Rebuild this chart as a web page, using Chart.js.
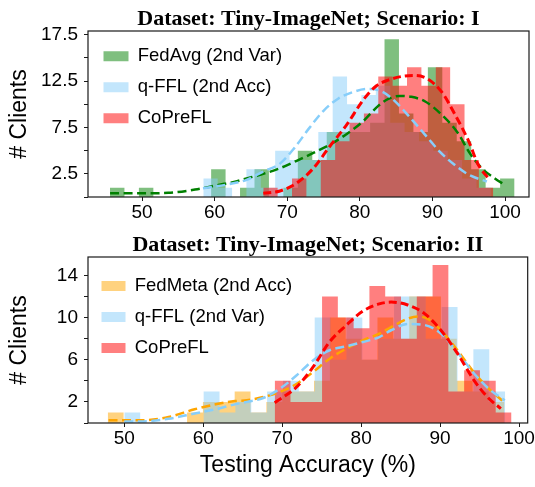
<!DOCTYPE html>
<html><head><meta charset="utf-8">
<script src="https://cdn.jsdelivr.net/npm/chart.js@4.4.1/dist/chart.umd.min.js"></script>
<style>
html,body{margin:0;padding:0;background:#fff;}
#wrap{position:relative;width:535px;height:487px;overflow:hidden;}
canvas{position:absolute;left:0;}
#c1{top:0;} #c2{top:222px;}
</style></head><body>
<div id="wrap"><canvas id="c1" width="535" height="222"></canvas><canvas id="c2" width="535" height="265"></canvas></div>
<script>
// ---------- Top panel (Scenario I) ----------
const title1 = 'Dataset: Tiny-ImageNet; Scenario: I';
const xTicks1 = [50, 60, 70, 80, 90, 100];
const yTicks1 = [0, 2.5, 5, 7.5, 10, 12.5, 15, 17.5];
const yTickLabels1 = [2.5, 7.5, 12.5, 17.5];
// histogram bins: start, width, counts
const fedavgStart = 45.59, fedavgWidth = 1.99;
const fedavgCounts = [1,0,1,0,0,0,0,3,0,1,3,0,1,5,4,7,7,7,8,17,9,7,14,8,6,3,1,2];
const qfflAStart = 58.44, qfflAWidth = 1.98;
const qfflACounts = [2,1,0,3,1,5,4,4,7,13,10,11,12,8,7,6,5,4,2,1];
const copre1Start = 66.7, copre1Width = 1.98;
const copre1Counts = [1,0,2,0,4,6,8,9,13,12,14,12,14,10,4,1];
// KDE curves
const fedavgKdeX = [45.6,50,53.6,57.3,60.5,62.8,64.4,66.7,69,71.3,73.6,75.9,78.2,80.5,82.5,84,85.5,87.1,89,91.3,93.6,95,96.8,98.6,100];
const fedavgKdeY = [0.4,0.4,0.45,0.8,1.3,1.65,2.0,2.5,3.1,3.9,4.75,5.65,6.8,8.2,9.8,10.6,10.9,10.8,10.3,8.85,6.8,4.9,3.1,2.0,1.3];
const qfflAKdeX = [58.4,62.1,64.4,66.7,69,71,73,75,77,79,81,83,85,87,89,91,93,95,97.5];
const qfflAKdeY = [0.95,1.4,1.85,2.75,3.6,5.3,7.4,9.3,10.6,11.3,11.65,11.4,10.2,8.5,6.7,4.9,3.5,2.4,1.67];
const copre1KdeX = [66.7,69,71.3,73.6,75.9,78.2,80.5,82.3,83.9,85.8,87.6,89.4,91.3,93.1,95,96.3,97.9];
const copre1KdeY = [0.4,0.65,1.5,3.1,5.5,7.8,10.5,12.0,12.6,13.0,13.1,12.7,11.3,8.9,6.0,3.5,1.85];

// ---------- Bottom panel (Scenario II) ----------
const title2 = 'Dataset: Tiny-ImageNet; Scenario: II';
const xTicks2 = [50, 60, 70, 80, 90, 100];
const yTicks2 = [0, 2, 4, 6, 8, 10, 12, 14];
const yTickLabels2 = [2, 6, 10, 14];
const fedmetaStart = 47.9, fedmetaWidth = 2.01;
const fedmetaCounts = [1,0,0,0,0,1,2,2,3,1,2,3,3,4,10,8,6,10,8,12,12,8,4,3,2];
const qfflVStart = 50.0, qfflVWidth = 2.01;
const qfflVCounts = [1,0,0,0,0,3,1,2,1,3,4,3,10,6,10,6,8,12,12,8,11,3,7,3];
const copre2Start = 69.05, copre2Width = 2.0;
const copre2Counts = [4,2,2,12,10,9,13,12,8,12,15,3,5,4,1];
const fedmetaKdeX = [48,52,55.6,58.9,61.9,64,65.5,67.6,69.7,71.8,73.9,76,78.1,80.2,82.3,83.8,85.9,87.2,88.4,90.1,92.2,94.3,96.4,98.1];
const fedmetaKdeY = [0.25,0.25,0.57,1.3,1.83,2.08,2.15,2.46,2.94,3.7,4.83,6.1,7.05,7.84,8.47,9.1,9.9,10.1,9.9,8.8,6.9,4.8,3.1,2.0];
const qfflVKdeX = [50,52,55.6,58.9,61.9,64,65.5,67.6,69.7,71.8,73.9,76,78.1,80.2,82.3,83.8,85.9,88,90.1,92.2,94.3,96.4,98.2];
const qfflVKdeY = [0.15,0.15,0.4,0.9,1.36,1.77,2.0,2.37,3.25,4.5,5.94,6.9,7.27,7.68,8.15,8.8,9.4,9.3,8.5,6.7,4.7,3.1,2.15];
const copre2KdeX = [69.05,71.8,73.9,76,78.1,80.2,82.3,83.8,85.9,88,90.1,92.2,94.3,96,97.7];
const copre2KdeY = [1.93,3.4,5.3,7.7,9.26,10.6,11.3,11.47,11.2,10.4,8.8,6.6,4.05,2.46,1.36];

const SANS = '"Liberation Sans", Arial, sans-serif';
const SERIF = '"Liberation Serif", "Times New Roman", serif';
const C_GREEN = 'rgba(0,128,0,0.5)', C_BLUE = 'rgba(135,206,250,0.5)', C_RED = 'rgba(255,0,0,0.5)', C_ORANGE = 'rgba(255,165,0,0.5)';

function histDS(label, start, width, counts, color, order) {
  const pts = counts.map((c, i) => ({x: start + i * width, y: c}));
  pts.push({x: start + counts.length * width, y: 0});
  return {label, data: pts, stepped: true, fill: 'origin', backgroundColor: color,
    borderColor: 'rgba(0,0,0,0)', borderWidth: 0, pointRadius: 0, pointHoverRadius: 0, order};
}
function kdeDS(xs, ys, color, width, dash, order) {
  return {label: '', data: xs.map((x, i) => ({x, y: ys[i]})), borderColor: color, backgroundColor: color,
    borderWidth: width, borderDash: dash, fill: false, pointRadius: 0, pointHoverRadius: 0,
    cubicInterpolationMode: 'monotone', order};
}
const frame = {id: 'frame', afterDraw(chart) {
  const {ctx, chartArea: a} = chart;
  ctx.save(); ctx.strokeStyle = '#1a1a1a'; ctx.lineWidth = 1.2;
  ctx.strokeRect(a.left, a.top, a.right - a.left, a.bottom - a.top); ctx.restore();
}};
const legendPos = {id: 'legendPos', afterLayout(chart, args, opts) {
  const L = chart.legend, a = chart.chartArea;
  if (!L) return;
  L.left = a.left + opts.dx; L.top = a.top + opts.dy; L.right = a.right; L.bottom = a.bottom;
}};

function makeChart(id, cfg) {
  const yLabels = cfg.yLabels;
  return new Chart(document.getElementById(id), {
    type: 'line',
    data: {datasets: cfg.datasets},
    plugins: [frame, legendPos],
    options: {
      responsive: false, animation: false, events: [],
      layout: {padding: {left: 0, right: 6, top: 0, bottom: 0}},
      plugins: {
        title: {display: true, text: cfg.title, fullSize: false, color: '#000',
          font: {family: SERIF, size: 22, weight: 'bold', lineHeight: 1}, padding: cfg.titlePad},
        legend: {position: 'chartArea', align: 'start',
          labels: {boxWidth: cfg.boxW, boxHeight: 10, padding: 12.5, color: '#000',
            font: {family: SANS, size: 18.5}, filter: it => it.text !== '',
            sort: (a, b) => a.datasetIndex - b.datasetIndex}},
        legendPos: {dx: cfg.legDx, dy: cfg.legDy},
        tooltip: {enabled: false}
      },
      scales: {
        x: {type: 'linear', min: cfg.xmin, max: cfg.xmax,
          afterFit: s => { s.height = cfg.xH; },
          afterBuildTicks: s => { s.ticks = cfg.xTicks.map(v => ({value: v})); },
          ticks: {autoSkip: false, maxRotation: 0, color: '#000', padding: 0, font: {family: SANS, size: 19}},
          grid: {display: true, drawOnChartArea: false, drawTicks: true, tickLength: 4, color: '#1a1a1a'},
          border: {display: false},
          title: cfg.xTitle ? {display: true, text: cfg.xTitle, color: '#000', font: {family: SANS, size: 23}, padding: {top: 0, bottom: 8}} : {display: false}},
        y: {min: 0, max: cfg.ymax,
          afterFit: s => { s.width = 88; },
          afterBuildTicks: s => { s.ticks = cfg.yTicks.map(v => ({value: v})); },
          ticks: {autoSkip: false, color: '#000', padding: 6, font: {family: SANS, size: 19},
            callback: v => yLabels.some(t => Math.abs(t - v) < 1e-6) ? String(v) : ''},
          grid: {display: true, drawOnChartArea: false, drawTicks: true, tickLength: 4, color: '#1a1a1a'},
          border: {display: false},
          title: {display: true, text: '# Clients', color: '#000', font: {family: SANS, size: 23}, padding: {top: 6, bottom: 0}}}
      }
    }
  });
}

makeChart('c1', {
  title: title1, titlePad: {top: 8, bottom: 1}, xmin: 42.56, xmax: 103.3, ymax: 17.9,
  xTicks: xTicks1, yTicks: yTicks1, yLabels: yTickLabels1, xH: 25, boxW: 25, legDx: 3, legDy: 3.5,
  datasets: [
    histDS('FedAvg (2nd Var)', fedavgStart, fedavgWidth, fedavgCounts, C_GREEN, 12),
    histDS('q-FFL (2nd Acc)', qfflAStart, qfflAWidth, qfflACounts, C_BLUE, 11),
    histDS('CoPreFL', copre1Start, copre1Width, copre1Counts, C_RED, 10),
    kdeDS(fedavgKdeX, fedavgKdeY, 'rgb(0,128,0)', 2.5, [9, 4.5], 3),
    kdeDS(qfflAKdeX, qfflAKdeY, 'rgb(135,206,250)', 2.5, [9, 4.5], 2),
    kdeDS(copre1KdeX, copre1KdeY, 'rgb(255,0,0)', 3, [8, 4], 1)
  ]
});
makeChart('c2', {
  title: title2, titlePad: {top: 12, bottom: 1}, xmin: 45.4, xmax: 101.1, ymax: 15.75,
  xTicks: xTicks2, yTicks: yTicks2, yLabels: yTickLabels2, xH: 64, boxW: 24, legDx: 1, legDy: 7.3, xTitle: 'Testing Accuracy (%)',
  datasets: [
    histDS('FedMeta (2nd Acc)', fedmetaStart, fedmetaWidth, fedmetaCounts, C_ORANGE, 12),
    histDS('q-FFL (2nd Var)', qfflVStart, qfflVWidth, qfflVCounts, C_BLUE, 11),
    histDS('CoPreFL', copre2Start, copre2Width, copre2Counts, C_RED, 10),
    kdeDS(fedmetaKdeX, fedmetaKdeY, 'rgb(255,165,0)', 2.5, [9, 4.5], 3),
    kdeDS(qfflVKdeX, qfflVKdeY, 'rgb(135,206,250)', 2.5, [9, 4.5], 2),
    kdeDS(copre2KdeX, copre2KdeY, 'rgb(255,0,0)', 3, [8, 4], 1)
  ]
});
</script></body></html>
